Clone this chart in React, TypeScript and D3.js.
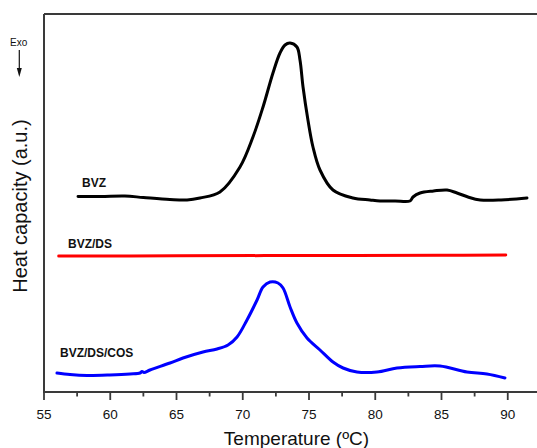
import React from "react";
import * as d3 from "d3";

// Temperature (ºC) / heat capacity (a.u.)
const bvzTemp = [57.57, 59.3, 61.1, 62.5, 64.5, 65.8, 66.77, 68.28, 69.79, 70.77, 71.53, 72.28, 72.81, 73.19, 73.57, 74.09, 74.32, 74.55, 74.92, 75.3, 75.83, 76.81, 78.32, 79.6, 80.36, 81.5, 82.62, 82.85, 83.38, 84.4, 85.42, 86.17, 87.0, 87.92, 89.5, 91.45];
const bvzHeat = [195.5, 195.5, 196, 194.5, 192.5, 192, 194, 200, 225, 255, 285, 319, 339, 347, 349, 345, 332, 305, 272, 245, 222, 202, 194, 192, 191, 191, 191, 195, 199, 201, 202, 199, 195, 192, 192, 194];

const dsTemp = [56.11, 65, 75, 85, 89.85];
const dsHeat = [136, 136.2, 136.5, 136.8, 137];

const cosTemp = [55.98, 56.96, 58.25, 59.98, 61.49, 62.25, 62.4, 62.55, 63.0, 64.51, 65.49, 67.0, 68.06, 68.89, 69.57, 70.32, 71.08, 71.53, 72.06, 72.66, 73.04, 73.57, 74.09, 74.85, 75.83, 76.81, 77.57, 78.62, 80.13, 81.64, 83.38, 84.89, 86.92, 88.43, 89.79];
const cosHeat = [19, 17.5, 16.5, 17, 18, 19, 20.5, 19.5, 22, 29, 34, 40, 43, 47, 55, 72, 92, 105, 110, 109, 104, 85, 69, 54, 42, 30, 24, 20, 20, 24, 25.5, 26, 20, 18, 14];

const majorTicks = [55, 60, 65, 70, 75, 80, 85, 90];
const minorTicks = [57.5, 62.5, 67.5, 72.5, 77.5, 82.5, 87.5, 92.5];

const seriesNames = ["BVZ", "BVZ/DS", "BVZ/DS/COS"];
const xTitle = "Temperature (ºC)";
const yTitle = "Heat capacity (a.u.)";

const W = 537;
const H = 448;
const FONT = "'Liberation Sans', Arial, sans-serif";

export default function App() {
  const left = 44;
  const top = 14;
  const bottom = 392;
  const x = d3.scaleLinear().domain([55, 93]).range([left, left + 38 * 13.25]);
  const y = d3.scaleLinear().domain([0, 378]).range([bottom, top]);

  const mk = (ts: number[], vs: number[]) =>
    d3
      .line<number>()
      .x((_, i) => x(ts[i]))
      .y((v) => y(v))
      .curve(d3.curveCatmullRom.alpha(0.5))(vs) || "";

  const axisColor = "#3a3a3a";

  return (
    <svg
      width={W}
      height={H}
      style={{ position: "absolute", left: 0, top: 0, background: "#fff" }}
      fontFamily={FONT}
    >
      <rect x={0} y={0} width={W} height={H} fill="#fff" />
      {/* frame */}
      <line x1={left} x2={W + 5} y1={top} y2={top} stroke={axisColor} strokeWidth={2} />
      <line x1={left} x2={left} y1={top} y2={bottom} stroke={axisColor} strokeWidth={2} />
      <line x1={left - 1} x2={W + 5} y1={bottom} y2={bottom} stroke={axisColor} strokeWidth={2} />
      {majorTicks.map((t) => (
        <g key={"M" + t}>
          <line x1={x(t)} x2={x(t)} y1={bottom} y2={bottom + 8} stroke={axisColor} strokeWidth={1.8} />
          <text x={x(t)} y={419} fontSize={13.5} textAnchor="middle" fill="#111">
            {t}
          </text>
        </g>
      ))}
      {minorTicks.map((t) => (
        <line key={"m" + t} x1={x(t)} x2={x(t)} y1={bottom} y2={bottom + 4.5} stroke={axisColor} strokeWidth={1.8} />
      ))}
      <text x={296.5} y={445} fontSize={19} textAnchor="middle" fill="#111">
        {xTitle}
      </text>
      <text transform="translate(27,206) rotate(-90)" fontSize={20} textAnchor="middle" fill="#111">
        {yTitle}
      </text>

      {/* Exo arrow */}
      <text x={10} y={45.7} fontSize={10} fill="#111">
        Exo
      </text>
      <line x1={19.3} x2={19.3} y1={50} y2={70} stroke="#111" strokeWidth={1.2} />
      <path d="M16.8,68 L21.8,68 L19.3,77 Z" fill="#111" />

      {/* curves */}
      <path d={mk(bvzTemp, bvzHeat)} fill="none" stroke="#000" strokeWidth={3} strokeLinejoin="round" strokeLinecap="round" />
      <path d={mk(dsTemp, dsHeat)} fill="none" stroke="#ff0000" strokeWidth={3} strokeLinecap="round" />
      <path d={mk(cosTemp, cosHeat)} fill="none" stroke="#0000ff" strokeWidth={3} strokeLinejoin="round" strokeLinecap="round" />

      {/* labels */}
      <text x={82} y={187} fontSize={12} fontWeight="bold" fill="#111">
        {seriesNames[0]}
      </text>
      <text x={68} y={247.7} fontSize={12} fontWeight="bold" fill="#111">
        {seriesNames[1]}
      </text>
      <text x={60} y={357.3} fontSize={12} fontWeight="bold" fill="#111">
        {seriesNames[2]}
      </text>
    </svg>
  );
}
